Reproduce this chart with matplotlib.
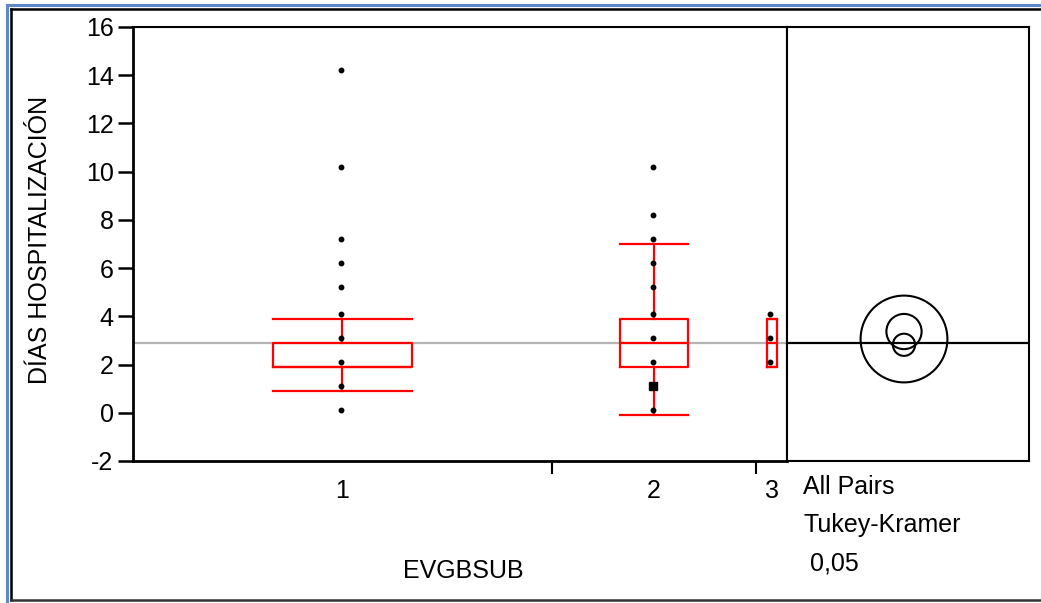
import matplotlib
matplotlib.use("Agg")
import matplotlib.pyplot as plt
from matplotlib.lines import Line2D
from matplotlib.patches import Circle

plt.rcParams['font.family'] = ['Liberation Sans', 'DejaVu Sans']
plt.rcParams['axes.unicode_minus'] = False

# data
groups = ['1', '2', '3']
group_n = [41, 20, 3]           # category widths are proportional to n
pts_g1 = [14.2, 10.2, 7.2, 6.2, 5.2, 4.1, 3.1, 2.1, 1.1, 0.1]
pts_g2 = [10.2, 8.2, 7.2, 6.2, 5.2, 4.1, 3.1, 2.1, 0.1]
pts_g2_sel = [1.1]
pts_g3 = [4.1, 3.1, 2.1]
# whislo, q1, med, q3, whishi
box_g1 = [0.9, 1.9, 1.9, 2.9, 3.9]
box_g2 = [-0.1, 1.9, 2.9, 3.9, 7.0]
box_g3 = [1.9, 1.9, 2.9, 3.9, 3.9]
grand_mean = 2.9
# comparison circles (centre, radius)
circ_centres = [2.82, 3.37, 3.06]
circ_radii = [0.46, 0.73, 1.8]

W, H = 1041, 603
FS = 18
fig = plt.figure(figsize=(W / 100, H / 100), dpi=100)

def px(x0, y0, x1, y1):
    return [x0 / W, 1 - y1 / H, (x1 - x0) / W, (y1 - y0) / H]

ax = fig.add_axes(px(133, 27, 787, 461))
ax2 = fig.add_axes(px(787, 27, 1029, 461))

total = sum(group_n)
edges = [0]
for n in group_n:
    edges.append(edges[-1] + n)
centres = [(edges[i] + edges[i + 1]) / 2 for i in range(len(group_n))]
widths = [n / 3 for n in group_n]

ax.set_xlim(0, total)
ax.set_ylim(-2, 16)

ax.axhline(grand_mean, color='#b4b4b4', lw=1.6, zorder=1)

stats = []
for b in [box_g1, box_g2, box_g3]:
    stats.append(dict(whislo=b[0], q1=b[1], med=b[2], q3=b[3], whishi=b[4], fliers=[]))
red = dict(color='#ff0000', lw=1.6)
ax.bxp(stats, positions=centres, widths=widths, capwidths=widths,
       showfliers=False, boxprops=red, whiskerprops=red, capprops=red,
       medianprops=red, manage_ticks=False, zorder=2)

for c, pts in zip(centres, [pts_g1, pts_g2, pts_g3]):
    ax.plot([c - 0.15] * len(pts), pts, 'o', color='black', ms=3.2, zorder=3)
ax.plot([centres[1] - 0.15] * len(pts_g2_sel), pts_g2_sel, 's', color='black', ms=6.2, zorder=3)

ax.set_yticks(range(-2, 17, 2))
ax.set_xticks(edges[1:-1])
ax.set_xticklabels([])
ax.set_xticks(centres, minor=True)
ax.set_xticklabels(groups, minor=True)
ax.tick_params(axis='y', direction='out', length=11, width=1.8, labelsize=FS, pad=3)
ax.tick_params(axis='x', which='major', direction='out', length=9, width=1.5)
ax.tick_params(axis='x', which='minor', length=0, labelsize=FS, pad=13)
for s in ax.spines.values():
    s.set_linewidth(1.5)
ax.spines['left'].set_linewidth(2)
ax.spines['bottom'].set_linewidth(2)

fig.text(40 / W, 1 - 240 / H, 'DÍAS HOSPITALIZACIÓN', fontsize=FS,
         rotation=90, ha='center', va='center')
fig.text(463 / W, 1 - 571 / H, 'EVGBSUB', fontsize=FS, ha='center', va='center')

# comparison circles panel
scale = 434 / 18
ax2.set_ylim(-2, 16)
ax2.set_xlim(0, 242 / scale)
ax2.set_xticks([])
ax2.set_yticks([])
for s in ax2.spines.values():
    s.set_linewidth(1.5)
ax2.axhline(grand_mean, color='black', lw=1.6)
cx = (904 - 787) / scale
for yc, r in zip(circ_centres, circ_radii):
    ax2.add_patch(Circle((cx, yc), r, fill=False, ec='black', lw=1.5))

fig.text(803 / W, 1 - 487 / H, 'All Pairs', fontsize=FS, va='center')
fig.text(803 / W, 1 - 525 / H, 'Tukey-Kramer', fontsize=FS, va='center')
fig.text(810 / W, 1 - 563 / H, '0,05', fontsize=FS, va='center')

# window frame
def fline(x0, y0, x1, y1, color, lw):
    fig.add_artist(Line2D([x0 / W, x1 / W], [1 - y0 / H, 1 - y1 / H],
                          transform=fig.transFigure, color=color, lw=lw))

fline(7, 5, W, 5, '#5f88c8', 2.2)
fline(7, 5, 7, H, '#5f88c8', 2.2)
fline(11, 9, W, 9, 'black', 1.8)
fline(11, 9, 11, 600, 'black', 1.8)
fline(11, 600, W, 600, '#333333', 1.8)

fig.savefig('out.png', dpi=100)
